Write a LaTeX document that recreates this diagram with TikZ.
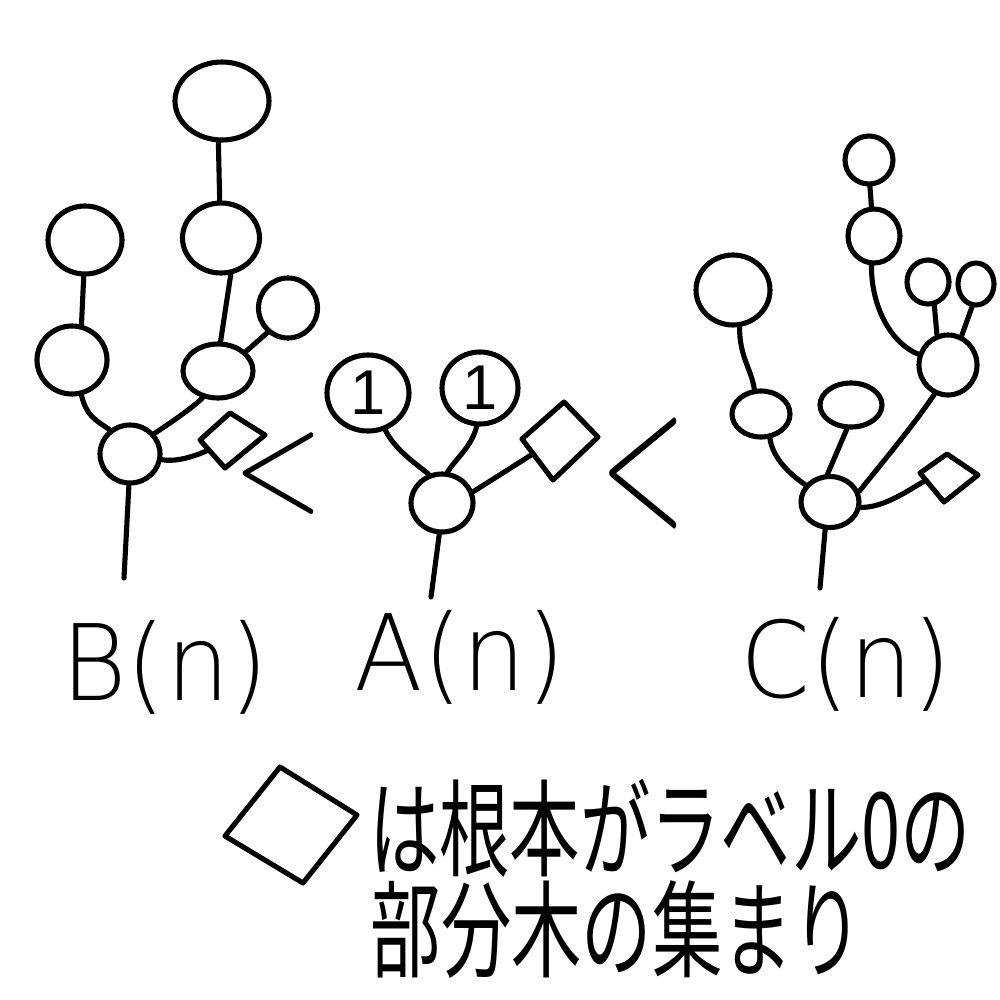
\documentclass[tikz,border=0pt]{standalone}
\usepackage{fontspec}
\newfontfamily\cjk{Noto Sans CJK JP}
\newfontfamily\lbl{DejaVu Sans ExtraLight}
\newfontfamily\onefont{Liberation Sans}
\usetikzlibrary{shapes.geometric,calc}
\begin{document}
\begin{tikzpicture}[x=0.01cm,y=-0.01cm,line width=1.45pt,line cap=round,line join=round,
  nd/.style 2 args={draw,ellipse,inner sep=0pt,minimum width=#1*0.01cm,minimum height=#2*0.01cm},
  lab/.style={anchor=base,inner sep=0pt,font=\lbl\fontsize{30}{30}\selectfont},
  one/.style={font=\onefont\fontsize{18}{18}\selectfont},
  legend/.style={inner sep=0pt,font=\cjk\fontsize{20}{20}\selectfont},
  rel/.style={inner sep=0pt}]
\path[use as bounding box] (0,0) rectangle (1000,1000);

% ---------- B(n) ----------
\node[nd={94}{78}] (bTop) at (222,101) {};
\node[nd={77}{70}] (bN2) at (221,238) {};
\node[nd={74}{68}] (bLT) at (85,240) {};
\node[nd={70}{68}] (bLM) at (72,360) {};
\node[nd={59}{60}] (bR) at (288,308) {};
\node[nd={70}{54}] (bN3) at (218,371) {};
\node[nd={60}{58}] (bRoot) at (130,454) {};
\coordinate (bDl) at (200,440);
\coordinate (bDt) at (230,413);
\coordinate (bDr) at (265,435);
\coordinate (bDb) at (225,468);
\draw (bDl) -- (bDt) -- (bDr) -- (bDb) -- cycle;
\coordinate (bDe) at ($(bDl)!0.35!(bDb)$);
\coordinate (bBase) at (124,578);
\draw (bTop.-95) -- (bN2.92);
\draw (bLT.-92) -- (bLM.75);
\draw (bLM.-75) .. controls +(5,20) and +(-15,-10) .. (bRoot.130);
\draw (bN2.-75) -- (bN3.85);
\draw (bN3.35) -- (bR.-130);
\draw (bRoot.40) .. controls +(15,-10) and +(-10,10) .. (bN3.-120);
\draw (bRoot.-10) .. controls +(15,3) and +(-10,5) .. (bDe);
\draw (bRoot.-92) -- (bBase);
\node[lab] (bLab) at (165,700) {\scalebox{0.95}[1]{B(n)}};
\node[rel] (lt1) at (279,474) {\scalebox{0.8}[1]{\normalfont\fontsize{42}{42}\selectfont <}};

% ---------- A(n) ----------
\node[nd={82}{76},one] (aL) at (368,393) {1};
\node[nd={76}{72},one] (aR) at (480,388) {1};
\node[nd={62}{58}] (aRoot) at (442,503) {};
\coordinate (aDl) at (522,439);
\coordinate (aDt) at (564,402);
\coordinate (aDr) at (598,437);
\coordinate (aDb) at (553,480);
\draw (aDl) -- (aDt) -- (aDr) -- (aDb) -- cycle;
\coordinate (aDe) at ($(aDl)!0.36!(aDb)$);
\coordinate (aBase) at (431,597);
\draw (aL.-65) .. controls +(10,20) and +(-12,-10) .. (aRoot.115);
\draw (aR.-95) .. controls +(-5,20) and +(10,-15) .. (aRoot.80);
\draw (aRoot.20) -- (aDe);
\draw (aRoot.-95) -- (aBase);
\node[lab] (aLab) at (460,690) {\scalebox{0.95}[1]{A(n)}};
\node[rel] (lt2) at (643,473) {\scalebox{0.56}[1]{\normalfont\fontsize{57}{57}\selectfont <}};

% ---------- C(n) ----------
\node[nd={48}{48}] (cTop) at (869,160) {};
\node[nd={52}{54}] (cN2) at (874,236) {};
\node[nd={74}{70}] (cLT) at (733,290) {};
\node[nd={58}{46}] (cLM) at (761,414) {};
\node[nd={62}{44}] (cMid) at (851,405) {};
\node[nd={58}{60}] (cN3) at (948,365) {};
\node[nd={42}{44}] (cS1) at (928,282) {};
\node[nd={36}{42}] (cS2) at (976,284) {};
\node[nd={58}{51}] (cRoot) at (830,502) {};
\coordinate (cDl) at (920,473);
\coordinate (cDt) at (947,454);
\coordinate (cDr) at (978,475);
\coordinate (cDb) at (944,502);
\draw (cDl) -- (cDt) -- (cDr) -- (cDb) -- cycle;
\coordinate (cDe) at ($(cDl)!0.25!(cDb)$);
\coordinate (cBase) at (820,588);
\draw (cTop.-88) -- (cN2.95);
\draw (cN2.-95) .. controls +(0,45) and +(-25,-10) .. (cN3.160);
\draw (cLT.-80) .. controls +(0,30) and +(-3,-20) .. (cLM.105);
\draw (cLM.-70) .. controls +(3,20) and +(-15,-10) .. (cRoot.145);
\draw (cMid.-100) -- (cRoot.95);
\draw (cN3.-115) .. controls +(-20,30) and +(20,-25) .. (cRoot.20);
\draw (cS1.-75) -- (cN3.110);
\draw (cS2.-100) -- (cN3.65);
\draw (cRoot.-10) .. controls +(25,0) and +(-15,8) .. (cDe);
\draw (cRoot.-100) -- (cBase);
\node[lab] (cLab) at (846,697) {\scalebox{0.95}[1]{C(n)}};

% ---------- legend ----------
\coordinate (lDl) at (225,836);
\coordinate (lDt) at (280,767);
\coordinate (lDr) at (357,815);
\coordinate (lDb) at (303,883);
\draw (lDl) -- (lDt) -- (lDr) -- (lDb) -- cycle;
\node[legend] (leg1) at (670,828) {\scalebox{1}[1.5]{は根本がラベル0の}};
\node[legend] (leg2) at (617,930) {\scalebox{1}[1.5]{部分木の集まり}};
\end{tikzpicture}
\end{document}
